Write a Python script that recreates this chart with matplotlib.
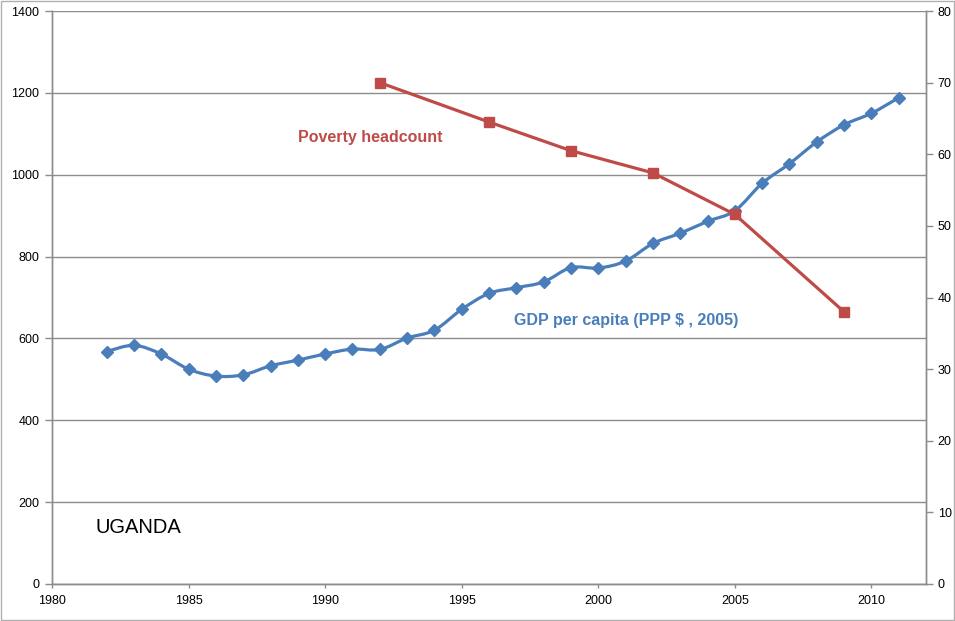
import numpy as np
import matplotlib
matplotlib.use("Agg")
import matplotlib.pyplot as plt
from matplotlib.path import Path
from matplotlib.patches import PathPatch, Rectangle

# GDP per capita (PPP $, 2005), left axis
gdp_years = list(range(1982, 2012))
gdp_values = [568, 583, 562, 525, 508, 511, 533, 547, 562, 574,
              573, 601, 620, 671, 710, 724, 738, 773, 772, 789,
              832, 857, 886, 912, 979, 1027, 1080, 1122, 1150, 1188]

# Poverty headcount (%), right axis
pov_years = [1992, 1996, 1999, 2002, 2005, 2009]
pov_values = [70.0, 64.5, 60.5, 57.4, 51.6, 38.0]

BLUE = "#4A7EBB"
RED = "#BE4B48"
GRID = "#8C8C8C"
FONT = "Liberation Sans"


def smooth_path(xs, ys, tension=1 / 6):
    """Cubic Bezier path through the points (Catmull-Rom style control points)."""
    xs = np.asarray(xs, float)
    ys = np.asarray(ys, float)
    pts = np.column_stack([xs, ys])
    verts = [pts[0]]
    codes = [Path.MOVETO]
    n = len(pts)
    for i in range(n - 1):
        p0 = pts[i - 1] if i > 0 else pts[i]
        p1 = pts[i]
        p2 = pts[i + 1]
        p3 = pts[i + 2] if i + 2 < n else pts[i + 1]
        c1 = p1 + (p2 - p0) * tension
        c2 = p2 - (p3 - p1) * tension
        verts += [c1, c2, p2]
        codes += [Path.CURVE4] * 3
    return Path(verts, codes)


fig = plt.figure(figsize=(9.55, 6.21), dpi=100)
ax = fig.add_axes([52 / 955, 1 - 584 / 621, (926 - 52) / 955, (584 - 11) / 621])
ax2 = ax.twinx()

# GDP line, smoothed
ax.add_patch(PathPatch(smooth_path(gdp_years, gdp_values), facecolor="none",
                       edgecolor=BLUE, lw=2.3, zorder=3))
ax.plot(gdp_years, gdp_values, ls="none", marker="D", ms=5.8, color=BLUE,
        mec=BLUE, zorder=4)

# Poverty line
ax2.plot(pov_years, pov_values, color=RED, lw=2.3, marker="s", ms=7,
         mec=RED, zorder=4)

ax.set_xlim(1980, 2012)
ax.set_ylim(0, 1400)
ax.set_yticks(range(0, 1401, 200))
ax.set_xticks(range(1980, 2011, 5))
ax2.set_ylim(0, 80)
ax2.set_yticks(range(0, 81, 10))

ax.yaxis.grid(True, color=GRID, lw=1)
ax.set_axisbelow(True)

for a in (ax, ax2):
    for side, sp in a.spines.items():
        sp.set_color(GRID)
        sp.set_linewidth(1)
    a.spines["top"].set_visible(False)
    a.tick_params(colors=GRID, labelcolor="black", labelsize=9, length=5,
                  width=1)
    for lab in a.get_xticklabels() + a.get_yticklabels():
        lab.set_fontfamily(FONT)
ax.tick_params(axis="x", length=3, pad=5)
ax.tick_params(axis="y", pad=4)

ax.text(1989.0, 1092, "Poverty headcount", color=RED, fontsize=11.5,
        fontweight="bold", family=FONT, va="center", ha="left")
ax.text(1996.9, 645, "GDP per capita (PPP $ , 2005)", color=BLUE,
        fontsize=11.5, fontweight="bold", family=FONT, va="center", ha="left")
ax.text(1981.6, 139, "UGANDA", color="black", fontsize=14.5, family=FONT,
        va="center", ha="left")

# chart frame
fig.patches.append(Rectangle((0.001, 0.001), 0.998, 0.997, transform=fig.transFigure,
                             fill=False, edgecolor="#B0B0B0", lw=1))

fig.savefig("out.png", dpi=100)
